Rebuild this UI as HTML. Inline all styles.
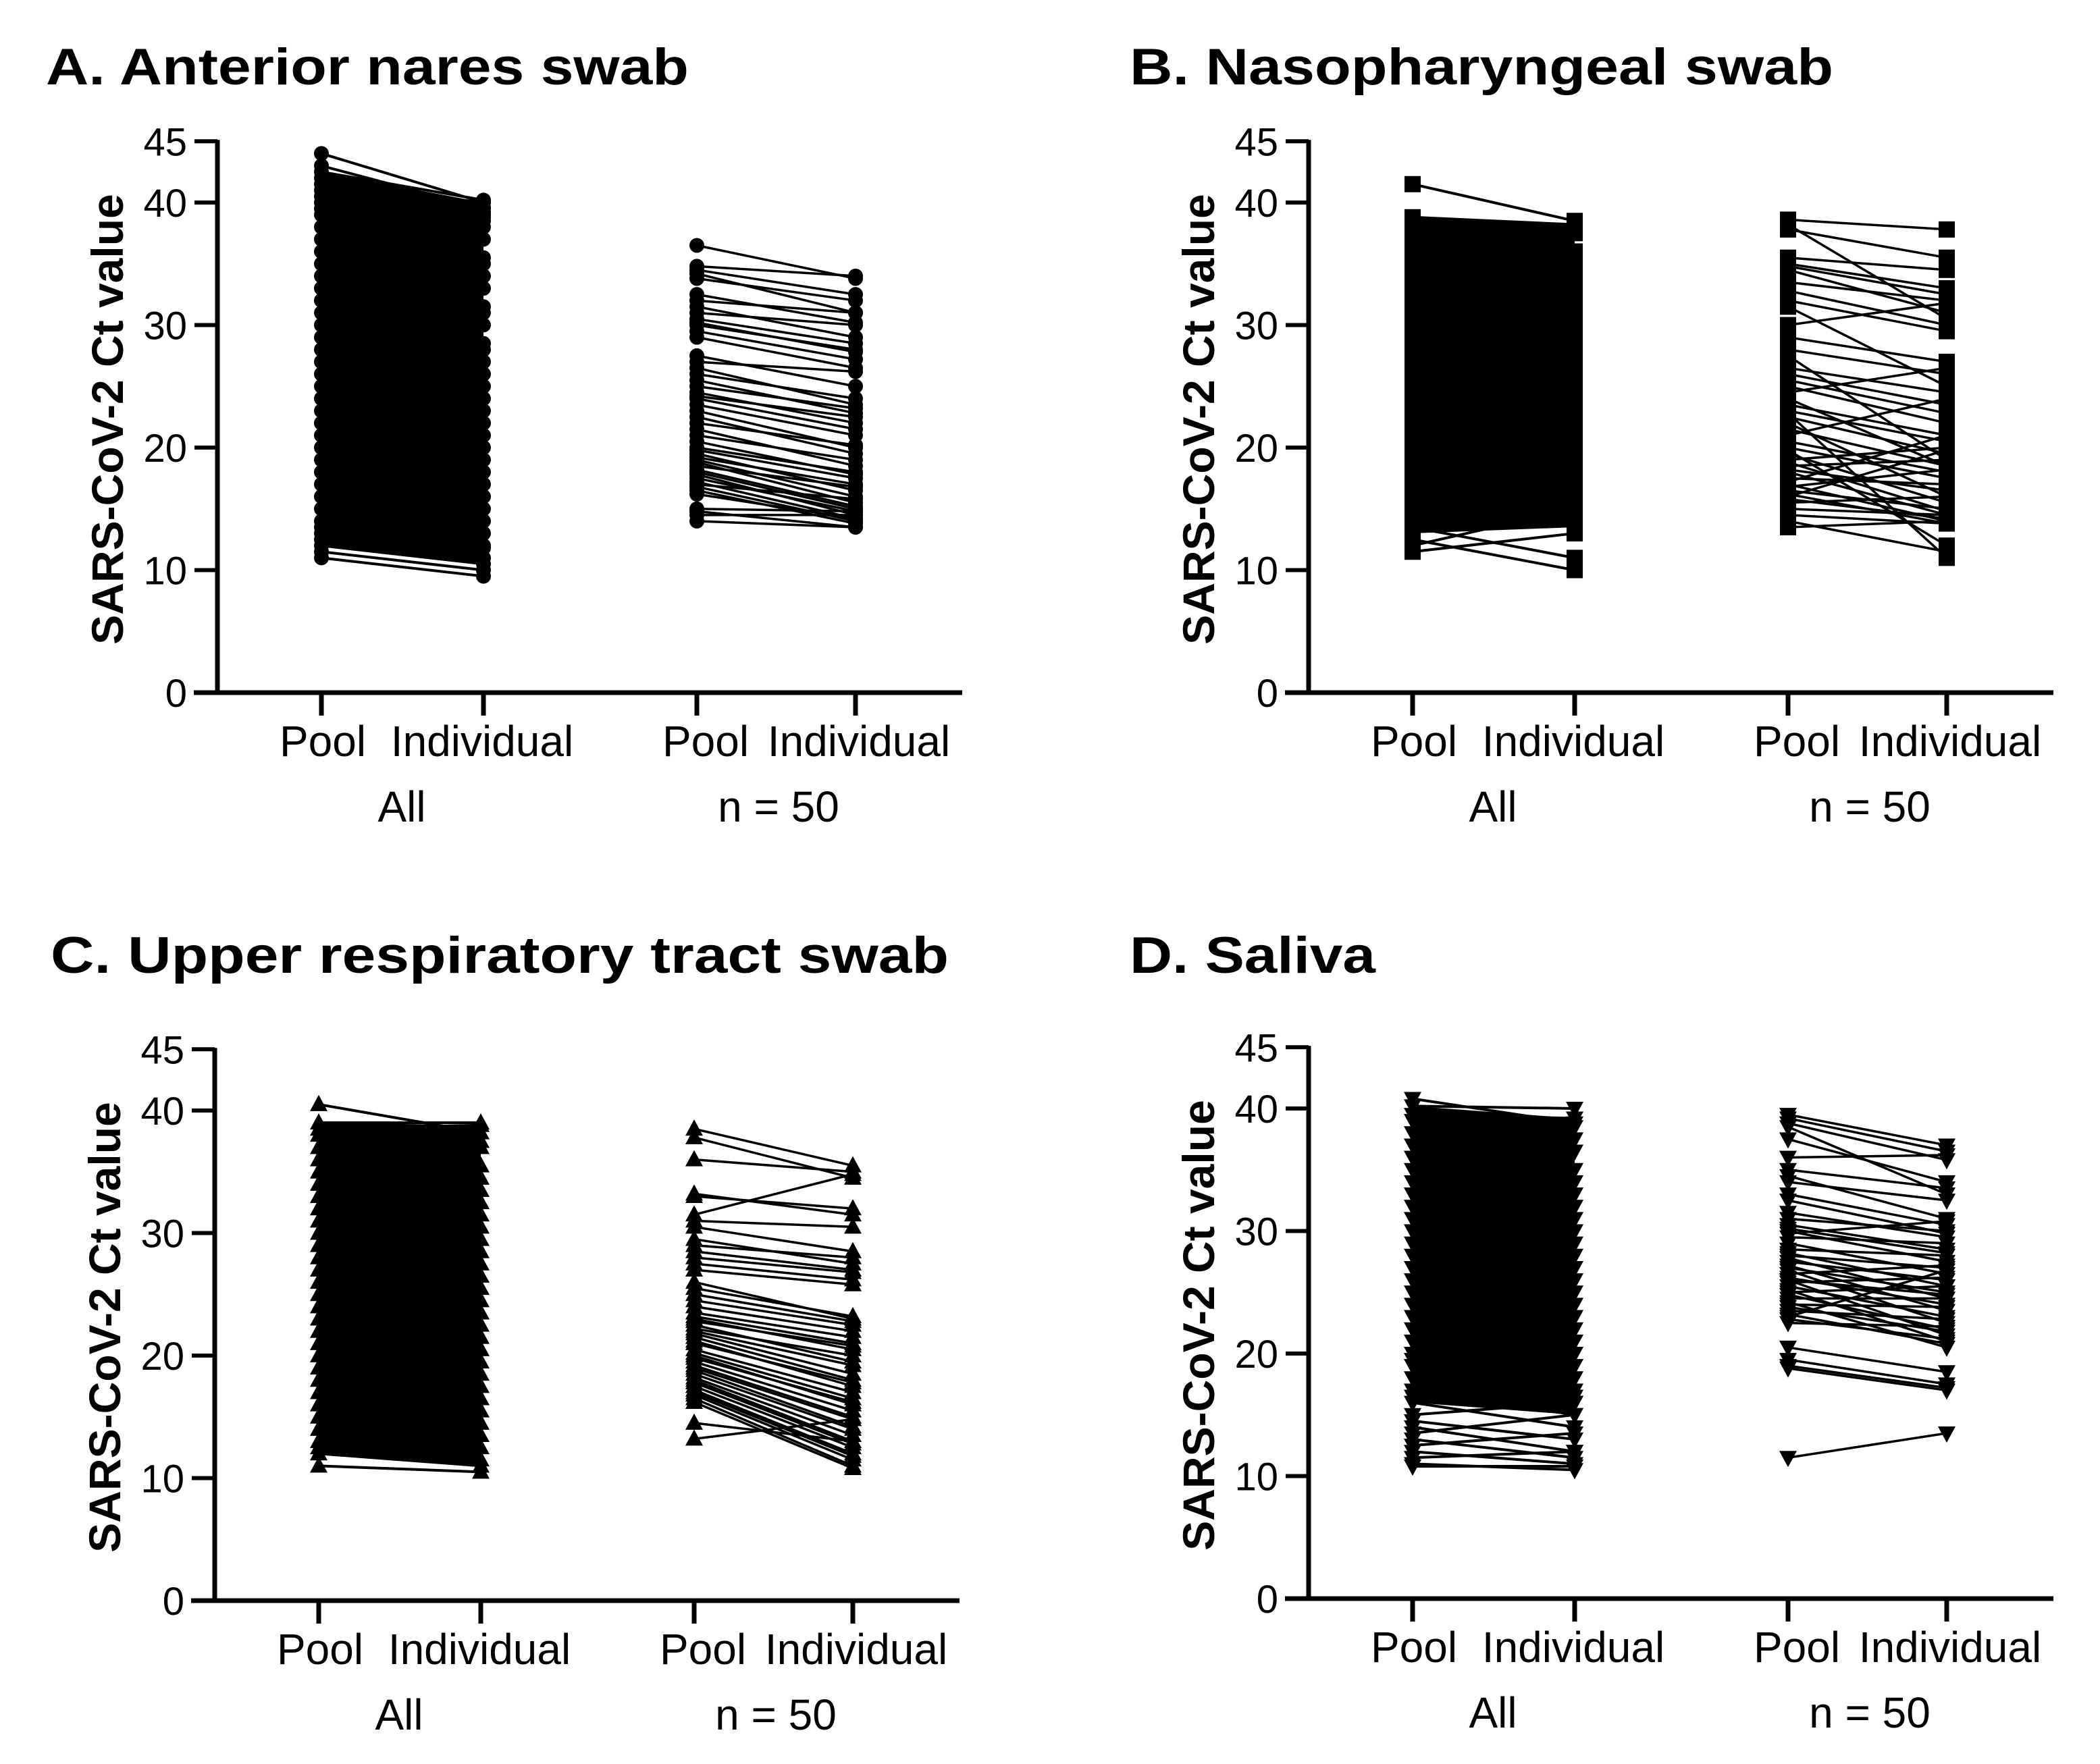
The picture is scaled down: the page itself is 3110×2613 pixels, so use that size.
<!DOCTYPE html>
<html><head><meta charset="utf-8">
<style>
html,body{margin:0;padding:0;background:#fff;}
svg{display:block;}
text{font-family:"Liberation Sans",Arial,sans-serif;fill:#000;}
</style></head>
<body>
<svg id="fig" width="3110" height="2613" viewBox="0 0 3110 2613" xmlns="http://www.w3.org/2000/svg">
<rect width="3110" height="2613" fill="#fff"/>
</svg>
<script>
// ---- data ----
const categories = ["Pool", "Individual", "Pool", "Individual"];
const groupLabels = ["All", "n = 50"];
const yTicks = [0, 10, 20, 30, 40, 45];

const aAllPool = [44,43,42.5,42,41.5,41,40.5,40,39.5,39,38,37,36,35,34,33,32,31,30,29,28,27,26,25,24,23,22,21,20,19,18,17,16,15,14,13.5,13,12.5,12,11.5,11];
const aAllInd  = [40,39.5,40.2,39,40,38.8,39.6,39.2,38.5,38,37,35.5,35,34,33,31.5,31,30,28.5,28,27,26,25,24,23,22,21,20,19,18,17,16,15,14,13,12,11.8,11,10.5,10,9.5];
const a50Pool = [36.5,34.8,34.5,34.2,33.8,32.5,32,31.5,31,30.5,30.2,30,29.5,29,27.5,27,26.5,26,25.5,25,24.5,24.2,24,23.5,23,22.5,22,21.5,21,20.5,20,19.8,19.5,19.2,19,18.8,18.5,18.2,18,17.8,17.5,17.2,17,16.8,16.5,16.2,15,14.8,14.5,14];
const a50Ind  = [33.8,34,32.5,31,32,30.2,31,29,30,28.5,27.8,28,27.2,26.5,25,26.2,23.5,24,22.8,23.2,22,22.5,21.5,21,20,19.5,20.2,18.5,19,17.8,18,17.5,16.5,17,16,15.5,16.8,15.2,15,14.5,14.8,14.2,15.8,14,13.8,14.2,14.8,13.5,14.5,13.5];

const bAllPool = [41.5,38.8,38.5,38,37,36,35,34,33,32,31,30,29,28,27,26,25,24,23,22,21,20,19.5,19,18.5,18,17.5,17,16.5,16,15.5,15,14.5,14,13.5,13,12.5,12,11.5];
const bAllInd  = [38.5,38.2,36,37.5,35,30,33,36,28,31,34,25,29,35,22,30,27,20,32,24,18,26,17,23,15,21,16,19,14.5,22,13.5,18,16,14,11,17,10,15,13];
const b50Pool = [38.6,38.2,37.8,35.5,35,34.8,34.5,33.5,32.8,32,31.5,30,29,28,27.5,26.5,26,25.5,25,24.5,24,23.5,23,22.8,22.5,22,21.5,21,20.5,20,19.8,19.5,19,18.8,18.5,18.2,18,17.5,17.2,17,16.8,16.5,16.2,16,15.8,15.5,15,14.5,14,13.5];
const b50Ind  = [37.8,30.5,35.5,34.5,33,32.5,31,32,30,29.5,25,31.8,27,26,19,24.5,23.5,22.8,22,26.5,18.5,21,20.5,11,19.5,16,18.5,24,18,17.5,12,15.5,20,14.8,19,16.5,14.5,17,21,14,18.2,15,13.8,19.8,14.2,16,14.5,13.8,11.5,14];

const cAllPool = [40.5,39,38.5,38,37,36,35,34,33,32,31,30,29,28,27,26,25,24,23,22,21,20,19,18,17,16,15,14,13,12.5,12,11];
const cAllInd  = [38.2,39,38.8,37.5,37,35.5,34.5,33.5,32.5,31.5,30.5,29.5,28.5,27.5,26.5,25.5,24.5,23.5,22.5,21.5,20.5,19.5,18.5,17.5,16.5,15.5,14.5,13.5,12.5,11.5,11,10.5];
const c50Pool = [38.5,37.8,36,33.2,33,31,30.5,29.5,29,28.5,28,27.5,27,26,25.5,25,24.5,24,23.5,23.2,23,22.8,22.5,22.2,22,21.8,21.5,21.2,21,20.5,20.2,20,19.8,19.5,19.2,19,18.8,18.5,18.2,18,17.8,17.5,17.2,17,16.8,16.5,16.2,14.5,13.2,31.5];
const c50Ind  = [35.5,34.5,35,31.5,32,30.5,28.5,27.5,28,27,26.8,26.2,25.8,23,23.2,22.8,22.5,22,21.5,21,20.5,20.8,19.5,20,19.2,18.5,18,17.5,17.8,17,16.5,16,16.2,15.5,15,14.8,14.2,14,13.5,13,12.8,12.5,12,11.8,11.5,11,10.8,13,14.8,34.8];

const dAllPool = [40.8,40.2,39.5,39,38,37,36,35,34,33,32,31,30,29,28,27,26,25,24,23,22,21,20,19.5,19,18,17,16.5,16,15,14.5,14,13.5,13,12.5,12,11.5,11,10.8];
const dAllInd  = [38.8,40,39.2,38.5,37.5,36.5,35,34,33,32,31,30,29,28,27,26,25,24,23,22,21,20,16.5,19,18,16,15,17,14,16,13,12,15,11.5,13.5,11,12,10.5,10.8];
const d50Pool = [39.5,39.2,38.8,38.5,37.5,36,35,34.5,34,33,32.5,31.5,31,30.5,30,29.5,29,28.5,28.2,28,27.8,27.5,27.2,27,26.8,26.5,26.2,26,25.8,25.5,25.2,25,24.8,24.5,24.2,24,23.8,23.5,23.2,23,22.8,22.5,20.5,19.5,19,18.8,11.5,30.2,29.8,26];
const d50Ind  = [37,36.5,35.8,33,34,36.2,33.5,31,32.5,30.5,29.8,29.5,30,28.5,27.5,29,26.5,28,25.5,27,24.5,26,23.5,25,22.5,27.2,24,21.5,26.2,23,21,25.5,22,24.5,20.5,23.8,21.8,22.8,20.8,26.8,21.2,22.2,18.5,17.5,17.2,17,13.5,28.2,30.8,24.8];

const titles = ["A. Anterior nares swab", "B. Nasopharyngeal swab", "C.  Upper respiratory tract swab", "D. Saliva"];

// ---- layout ----
const NS = "http://www.w3.org/2000/svg";
const svg = document.getElementById("fig");
const panels = [
  {id:"a", dx:0, dy:0, tx:68, ty:125, tw:952, m:"circle", kt:2, kb:2, all:[aAllPool,aAllInd], n50:[a50Pool,a50Ind]},
  {id:"b", dx:1616, dy:0, tx:1673, ty:125, tw:1042, m:"square", kt:1, kb:3, all:[bAllPool,bAllInd], n50:[b50Pool,b50Ind]},
  {id:"c", dx:-4, dy:1345, tx:75, ty:1441, tw:1330, m:"tri", kt:1, kb:1, all:[cAllPool,cAllInd], n50:[c50Pool,c50Ind]},
  {id:"d", dx:1616, dy:1342, tx:1673, ty:1441, tw:364, m:"tridown", kt:1, kb:10, all:[dAllPool,dAllInd], n50:[d50Pool,d50Ind]}
];
const catX = [476, 716, 1032, 1267];
const catLabelX = [478, 714, 1045, 1272];
const groupX = [595, 1153];

function el(tag, attrs, parent){
  const e = document.createElementNS(NS, tag);
  for (const k in attrs) e.setAttribute(k, attrs[k]);
  (parent||svg).appendChild(e);
  return e;
}

panels.forEach((p, pi) => {
  const g = el("g", {transform:`translate(${p.dx},${p.dy})`});
  
  
  const yS = v => 1026 - v * 18.15;
  const xS = i => catX[i];

  const t = el("text", {x:p.tx - p.dx, y:p.ty - p.dy, "font-size":76, "font-weight":"bold", textLength:p.tw, lengthAdjust:"spacingAndGlyphs"}, g);
  t.textContent = titles[pi];
  
  

  const yt = el("text", {x:0, y:0, "font-size":66, "font-weight":"bold", "text-anchor":"middle", transform:"translate(182,621) rotate(-90)"}, g);
  yt.textContent = "SARS-CoV-2 Ct value";
  
  

  const ya = el("line", {x1:322, y1:yS(45)-2, x2:322, y2:1029, stroke:"#000", "stroke-width":7}, g);
  
  
  const xa = el("line", {x1:287, y1:1026, x2:1425, y2:1026, stroke:"#000", "stroke-width":7}, g);
  
  

  yTicks.forEach(v => {
    const tk = el("line", {x1:288, y1:yS(v), x2:322, y2:yS(v), stroke:"#000", "stroke-width":6}, g);
    
    
    const tl = el("text", {x:277, y:yS(v)+21, "font-size":58, "text-anchor":"end"}, g);
    tl.textContent = v;
    
    
  });
  categories.forEach((c, i) => {
    const tk = el("line", {x1:xS(i), y1:1026, x2:xS(i), y2:1060, stroke:"#000", "stroke-width":7}, g);
    
    
    const tl = el("text", {x:catLabelX[i], y:1120, "font-size":64, "text-anchor":"middle"}, g);
    tl.textContent = c;
    
    
  });
  groupLabels.forEach((c, i) => {
    const tl = el("text", {x:groupX[i], y:1217, "font-size":64, "text-anchor":"middle"}, g);
    tl.textContent = c;
    
    
  });

  function marker(x, y, parent){
    let m;
    if (p.m === "circle") m = el("circle", {cx:x, cy:y, r:11, fill:"#000"}, parent);
    else if (p.m === "square") m = el("rect", {x:x-12, y:y-12, width:24, height:24, fill:"#000"}, parent);
    else if (p.m === "tri") m = el("polygon", {points:`${x},${y-14} ${x-13},${y+10} ${x+13},${y+10}`, fill:"#000"}, parent);
    else m = el("polygon", {points:`${x},${y+14} ${x-13},${y-10} ${x+13},${y-10}`, fill:"#000"}, parent);
    
    
  }

  function series(pool, ind, i0, i1, name, band){
    const sg = el("g", {}, g);
    
    
    if (band){
      const sp = [...pool].sort((a,b)=>b-a), si = [...ind].sort((a,b)=>b-a);
      const poly = el("polygon", {points:`${xS(i0)},${yS(sp[p.kt])} ${xS(i1)},${yS(si[p.kt])} ${xS(i1)},${yS(si[si.length-1-p.kb])} ${xS(i0)},${yS(sp[sp.length-1-p.kb])}`, fill:"#000"}, sg);
      
      
    }
    pool.forEach((v, j) => {
      const ln = el("line", {x1:xS(i0), y1:yS(v), x2:xS(i1), y2:yS(ind[j]), stroke:"#000", "stroke-width":band?4:3.5}, sg);
      
      
    });
    pool.forEach((v, j) => { marker(xS(i0), yS(v), sg); marker(xS(i1), yS(ind[j]), sg); });
  }
  series(p.all[0], p.all[1], 0, 1, "series-all", true);
  series(p.n50[0], p.n50[1], 2, 3, "series-n50", false);
});
</script>
</body></html>
